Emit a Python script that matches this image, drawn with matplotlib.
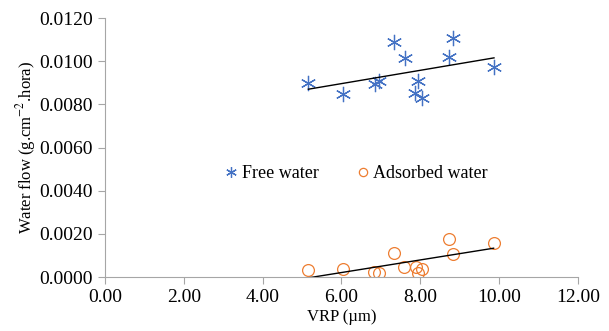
import matplotlib.pyplot as plt
import numpy as np

plt.rcParams['font.family'] = ['Liberation Serif', 'DejaVu Serif']
plt.rcParams['mathtext.fontset'] = 'stix'

# free water (asterisks)
free_x = [5.16, 6.05, 6.85, 6.94, 7.33, 7.61, 7.95, 7.87, 8.04, 8.74, 8.84, 9.87]
free_y = [0.00900, 0.00848, 0.00893, 0.00908, 0.01090, 0.01016, 0.00908, 0.00851, 0.00831, 0.01021, 0.01106, 0.00974]

# adsorbed water (circles)
ads_x = [5.16, 6.03, 6.83, 6.94, 7.33, 7.59, 7.89, 7.95, 8.04, 8.73, 8.82, 9.86]
ads_y = [0.00032, 0.00037, 0.00025, 0.00020, 0.00110, 0.00045, 0.00048, 0.00020, 0.00036, 0.00176, 0.00105, 0.00156]

xticks = [0, 2, 4, 6, 8, 10, 12]
yticks = [0, 0.002, 0.004, 0.006, 0.008, 0.010, 0.012]

fig = plt.figure(figsize=(6.09, 3.31), dpi=100)
ax = fig.add_axes([0.1724, 0.163, 0.7766, 0.7826])

blue = '#4472C4'
orange = '#ED7D31'

ax.plot(free_x, free_y, linestyle='none', marker=(6, 2, 0), markersize=11,
        markeredgecolor=blue, markeredgewidth=0.9, label='Free water')
ax.plot(ads_x, ads_y, linestyle='none', marker='o', markersize=8.5,
        markerfacecolor='none', markeredgecolor=orange, markeredgewidth=0.9,
        label='Adsorbed water')

# linear trendlines
for xs, ys in [(free_x, free_y), (ads_x, ads_y)]:
    m, b = np.polyfit(xs, ys, 1)
    lx = np.array([min(xs), max(xs)])
    ax.plot(lx, m * lx + b, color='black', linewidth=1)

ax.set_xlim(0, 12)
ax.set_ylim(0, 0.012)
ax.set_xticks(xticks)
ax.set_yticks(yticks)
ax.set_xticklabels(['%.2f' % v for v in xticks], fontsize=14)
ax.set_yticklabels(['%.4f' % v for v in yticks], fontsize=14)

for s in ['top', 'right']:
    ax.spines[s].set_visible(False)
for s in ['left', 'bottom']:
    ax.spines[s].set_color('#a6a6a6')
    ax.spines[s].set_linewidth(0.8)
ax.tick_params(colors='#a6a6a6', labelcolor='black', length=5, width=0.8)

ax.set_xlabel('VRP (µm)', fontsize=12, labelpad=2)
ax.set_ylabel('Water flow (g.cm$^{-2}$.hora)', fontsize=12, labelpad=1)

ax.legend(loc='center', bbox_to_anchor=(0.531, 0.40), ncol=2, frameon=False,
          fontsize=13, markerscale=0.7, handlelength=0.8, handletextpad=0.2,
          columnspacing=2.0)

fig.savefig('out.png', dpi=100)
